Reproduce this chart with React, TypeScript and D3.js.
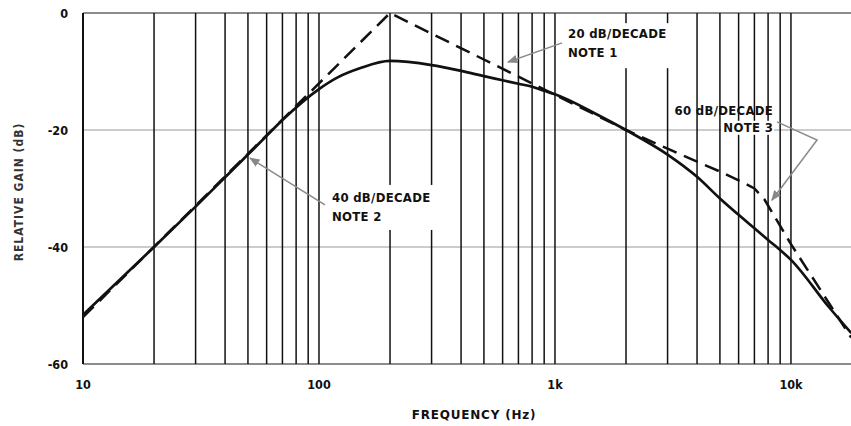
import React from "react";
import * as d3 from "d3";

// measured response (solid)
const freqs = [10, 20, 30, 50, 60, 70, 100, 120, 150, 200, 300, 400, 500, 600, 700, 800, 900, 1000, 1500, 2000, 3000, 4000, 5000, 6000, 7000, 8000, 9000, 10000, 14500, 18000];
const gain = [-51.6, -40, -33.1, -24.2, -21, -18.3, -13, -11, -9.4, -8.2, -8.9, -9.9, -10.8, -11.5, -12.1, -12.6, -13.3, -13.9, -17.3, -20, -24.2, -28, -31.7, -34.5, -36.8, -38.8, -40.5, -42.2, -50.3, -54.7];

// asymptotes (dashed)
const asymFreqs = [10, 200, 2000, 3000, 4000, 5000, 6000, 7000, 7700, 10000, 18000];
const asymGain = [-52, 0, -20, -23.2, -25.4, -27.1, -28.6, -30, -31.8, -39.5, -55.5];

const xTicks = [10, 100, 1000, 10000];
const xTickLabels = ["10", "100", "1k", "10k"];
const yTicks = [0, -20, -40, -60];
const yTickLabels = ["0", "-20", "-40", "-60"];

// notes: text anchor + leader path, in data units
const notes = [
  { lines: ["20 dB/DECADE", "NOTE 1"], f: 1135, db: -4.3, anchor: "start", bg: [-8, -15, 114, 45], leader: [[1072, -5.1], [632, -8.4]] },
  { lines: ["40 dB/DECADE", "NOTE 2"], f: 113.5, db: -32.3, anchor: "start", bg: [-5, -17, 112, 45], leader: [[106, -32.8], [51, -24.8]] },
  { lines: ["60 dB/DECADE", "NOTE 3"], f: 8400, db: -17.4, anchor: "end", bg: [-52, 6, 53, 14], leader: [[8730, -18.6], [12900, -21.7], [8300, -32.0]] },
];

const W = 851;
const H = 426;
const font = "'DejaVu Sans Condensed', 'DejaVu Sans', sans-serif";

const App = () => {
  const x = d3.scaleLog().domain([10, 20000]).range([83, 862]);
  const y = d3.scaleLinear().domain([-60, 0]).range([364, 13]);

  const grid: number[] = [];
  for (let dec = 10; dec <= 1000; dec *= 10) {
    for (let m = 1; m <= 9; m++) grid.push(dec * m);
  }
  grid.push(10000);

  const solidPath = d3
    .line<number>()
    .x((d) => x(d))
    .y((_, i) => y(gain[i]))
    .curve(d3.curveMonotoneX)(freqs);

  const dashPath = d3
    .line<number>()
    .x((d) => x(d))
    .y((_, i) => y(asymGain[i]))(asymFreqs);

  const leader = d3
    .line<number[]>()
    .x((d) => x(d[0]))
    .y((d) => y(d[1]));

  return (
    <svg width={W} height={H} style={{ position: "absolute", left: 0, top: 0, background: "#fff" }}>
      <defs>
        <marker id="arr" viewBox="0 0 10 10" refX="9" refY="5" markerWidth="7" markerHeight="7" orient="auto">
          <path d="M0,1 L10,5 L0,9 Z" fill="#888" />
        </marker>
      </defs>

      {/* horizontal grid */}
      {yTicks.map((t) => (
        <line
          key={t}
          x1={x(10)}
          x2={W}
          y1={y(t)}
          y2={y(t)}
          stroke={t === 0 || t === -60 ? "#666" : "#999"}
          strokeWidth={t === 0 || t === -60 ? 1.6 : 1.1}
        />
      ))}

      {/* vertical grid */}
      {grid.map((g) => (
        <line key={g} x1={x(g)} x2={x(g)} y1={y(0)} y2={y(-60)} stroke="#111" strokeWidth={g === 10 ? 2 : 1.5} />
      ))}

      {/* curves */}
      <path d={dashPath || ""} fill="none" stroke="#111" strokeWidth={2.5} strokeDasharray="15,8" />
      <path d={solidPath || ""} fill="none" stroke="#111" strokeWidth={2.7} />

      {/* notes */}
      {notes.map((n, i) => {
        const tx = x(n.f);
        const ty = y(n.db);
        return (
          <g key={i}>
            <rect x={tx + n.bg[0]} y={ty + n.bg[1]} width={n.bg[2]} height={n.bg[3]} fill="#fff" />
            <path d={leader(n.leader) || ""} fill="none" stroke="#8a8a8a" strokeWidth={1.5} markerEnd="url(#arr)" />
            {n.lines.map((s, j) => (
              <text
                key={j}
                x={tx}
                y={ty + j * (i === 2 ? 17 : 19)}
                textAnchor={n.anchor as any}
                fontFamily={font}
                fontWeight="bold"
                fontSize={13}
                letterSpacing={0.3}
                fill="#111"
              >
                {s}
              </text>
            ))}
          </g>
        );
      })}

      {/* y ticks */}
      {yTicks.map((t, i) => (
        <text key={t} x={68} y={y(t) + 4.5} textAnchor="end" fontFamily={font} fontWeight="bold" fontSize={12.5} fill="#111">
          {yTickLabels[i]}
        </text>
      ))}

      {/* x ticks */}
      {xTicks.map((t, i) => (
        <text key={t} x={x(t)} y={389} textAnchor="middle" fontFamily={font} fontWeight="bold" fontSize={12.5} fill="#111">
          {xTickLabels[i]}
        </text>
      ))}

      <text
        x={0}
        y={0}
        transform={`translate(23, ${192}) rotate(-90)`}
        textAnchor="middle"
        fontFamily={font}
        fontWeight="bold"
        fontSize={12}
        letterSpacing={1}
        fill="#333"
      >
        RELATIVE GAIN (dB)
      </text>

      <text
        x={474}
        y={419}
        textAnchor="middle"
        fontFamily="'DejaVu Sans', sans-serif"
        fontWeight="bold"
        fontSize={12}
        letterSpacing={0.8}
        fill="#111"
      >
        FREQUENCY (Hz)
      </text>
    </svg>
  );
};

export default App;
